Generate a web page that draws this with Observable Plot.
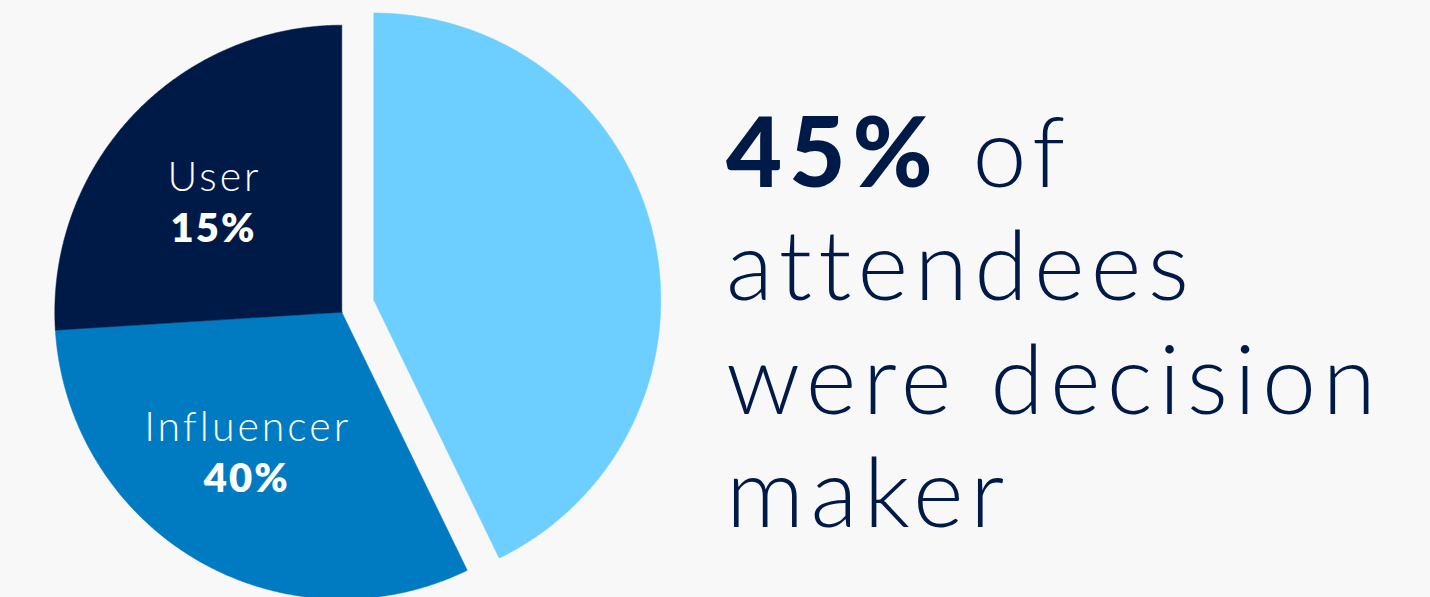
<!DOCTYPE html>
<html>
<head>
<meta charset="utf-8">
<script src="https://cdn.jsdelivr.net/npm/d3@7"></script>
<script src="https://cdn.jsdelivr.net/npm/@observablehq/plot@0.6"></script>
<style>
  html, body { margin: 0; padding: 0; background: #f8f8f8; }
  body { width: 1430px; height: 597px; overflow: hidden; position: relative; font-family: Lato, "Open Sans", sans-serif; }
  #chart { position: absolute; left: 0; top: 0; }
  #headline {
    position: absolute; left: 726px; top: 93px;
    color: #001a47; font-size: 97px; font-weight: 300; line-height: 113.4px;
    white-space: nowrap; letter-spacing: 6.3px;
  }
  #headline b { font-weight: 900; letter-spacing: 7px; }
  #chart text.lbl-name { letter-spacing: 3px; }
  #chart text.lbl-pct { letter-spacing: 2px; }
</style>
</head>
<body>
<div id="chart"></div>
<div id="headline"></div>
<script>
// ---- data ----
const categories = ["Decision maker", "Influencer", "User"];
const percentLabels = [45, 40, 15];            // values printed on the chart
const sliceShares = [42.8, 31.2, 26.0];        // slice sizes as drawn (percent of circle)
const colors = ["#6dcfff", "#007bc2", "#001a47"];
const insideLabels = ["Influencer", "User"];   // slices labelled inside the pie
const headlineLines = ["of", "attendees", "were decision", "maker"];

// ---- styling / layout (not data) ----
const explode = {"Decision maker": [0.1115, 0.0425]};
const labelNudge = {"Influencer": [-4, -6], "User": [0, 0]};

// ---- geometry derived from data ----
const total = d3.sum(sliceShares);
let acc = 0;
const slices = categories.map((c, i) => {
  const a0 = acc / total * 2 * Math.PI;
  acc += sliceShares[i];
  const a1 = acc / total * 2 * Math.PI;
  return {category: c, pct: percentLabels[i], a0, a1};
});

const points = [];
for (const s of slices) {
  const [ox, oy] = explode[s.category] || [0, 0];
  points.push({category: s.category, x: ox, y: oy});
  const n = Math.max(2, Math.ceil((s.a1 - s.a0) / (Math.PI / 720)));
  for (let k = 0; k <= n; k++) {
    const a = s.a0 + (s.a1 - s.a0) * k / n;
    points.push({category: s.category, x: ox + Math.sin(a), y: oy + Math.cos(a)});
  }
  points.push({category: s.category, x: ox, y: oy});
}

const labelData = slices
  .filter(s => insideLabels.includes(s.category))
  .map(s => {
    const m = (s.a0 + s.a1) / 2;
    const [nx, ny] = labelNudge[s.category] || [0, 0];
    return {name: s.category, pct: s.pct + "%", x: 0.575 * Math.sin(m), y: 0.575 * Math.cos(m), nx, ny};
  });

const R = 287, W = 700, H = 597, cx = 341.3, cy = 311.7;
const font = "Lato, 'Open Sans', sans-serif";
const plot = Plot.plot({
  width: W, height: H, margin: 0,
  style: {background: "transparent", overflow: "visible"},
  x: {domain: [-cx / R, (W - cx) / R], axis: null},
  y: {domain: [-(H - cy) / R, cy / R], axis: null},
  color: {domain: categories, range: colors},
  marks: [
    Plot.line(points, {x: "x", y: "y", z: "category", fill: "category", stroke: "category", strokeWidth: 0.5, curve: "linear-closed"}),
    ...labelData.map(d => [
      Plot.text([d], {x: "x", y: "y", text: "name", fill: "white", fontSize: 41, fontWeight: 300, fontFamily: font, dx: -7 + d.nx, dy: -21 + d.ny, className: "lbl-name"}),
      Plot.text([d], {x: "x", y: "y", text: "pct", fill: "white", fontSize: 40, fontWeight: 800, fontFamily: font, dx: -8 + d.nx, dy: 30 + d.ny, className: "lbl-pct"})
    ]).flat()
  ]
});
document.getElementById("chart").appendChild(plot);
plot.querySelectorAll("g.lbl-name text").forEach(t => t.classList.add("lbl-name"));
plot.querySelectorAll("g.lbl-pct text").forEach(t => t.classList.add("lbl-pct"));

const hl = document.getElementById("headline");
hl.innerHTML = `<b>${percentLabels[0]}%</b> ${headlineLines[0]}<br>` + headlineLines.slice(1).join("<br>");
</script>
</body>
</html>
